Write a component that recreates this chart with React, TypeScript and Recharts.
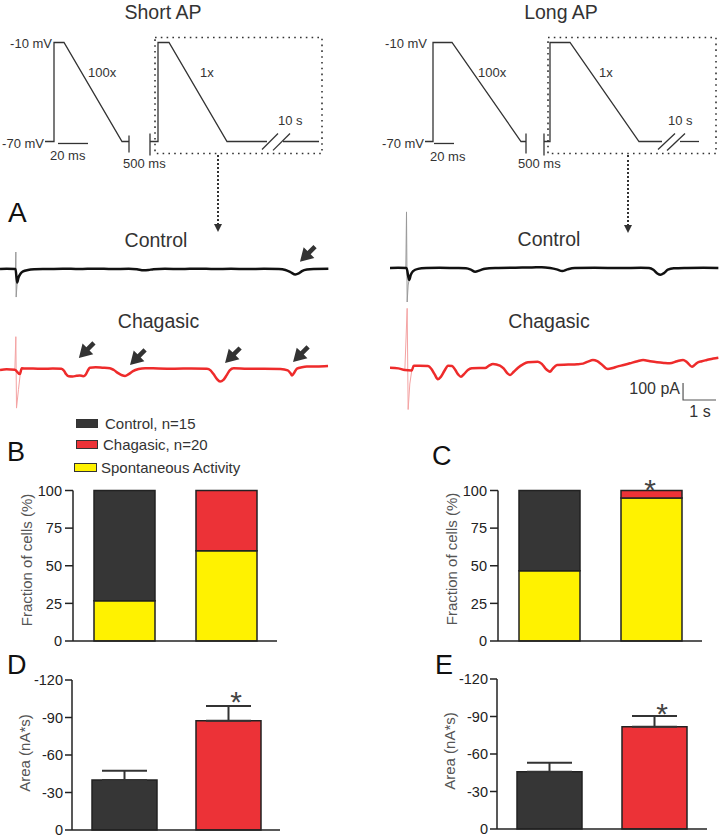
import React from 'react';
import {
  LineChart, Line, XAxis, YAxis, ReferenceArea, ReferenceDot,
  BarChart, Bar, Cell, ErrorBar,
} from 'recharts';

const FONT = '"Liberation Sans", Arial, Helvetica, sans-serif';

// ---------- Protocol schematics (x: schematic units, y: mV) ----------
const shortPulse1 = [[45, -70], [54, -70], [54, -10], [64, -10], [122, -70], [129, -70]];
const shortBreakA = [[129, -66.4], [129, -76.7]];
const shortBreakB = [[150, -65.2], [150, -78.5]];
const shortPulse2 = [[150, -70], [158, -70], [158, -10], [169, -10], [227, -70], [267, -70]];
const shortSlashA = [[262, -74.8], [278, -65.2]];
const shortSlashB = [[273, -75.4], [290, -65.2]];
const shortTail = [[283, -70], [319, -70]];
const shortScale = [[58, -71.2], [88, -71.2]];
const shortBox = [155, 322, -77.3, -7];

const longPulse1 = [[65, -70], [73, -70], [73, -10], [92, -10], [161, -70], [166, -70]];
const longBreakA = [[166, -65.2], [166, -77.3]];
const longBreakB = [[184, -65.2], [184, -78.5]];
const longPulse2 = [[184, -70], [190, -70], [190, -10], [210, -10], [279, -70], [302, -70]];
const longSlashA = [[298, -74.8], [315, -65.2]];
const longSlashB = [[307, -75.4], [325, -65.2]];
const longTail = [[320, -70], [339, -70]];
const longScale = [[74, -71.2], [94, -71.2]];
const longBox = [188, 356, -77.3, -7];

// ---------- Current traces (t: s, v: pA) ----------
const leftControlTrace = [
  [0, 0], [0.2, 2], [0.47, 0], [0.52, -80], [0.56, -50], [0.62, -28], [0.7, -14], [0.85, -6], [1.05, -2],
  [1.4, 0], [1.9, 2], [2.4, 0], [2.9, 2], [3.4, 0], [3.9, 1], [4.15, -2], [4.35, -8], [4.5, -6], [4.65, -1],
  [5.0, 1], [5.5, 0], [6.0, 2], [6.5, 0], [7.0, 1], [7.5, 0], [8.0, 1], [8.45, 0], [8.65, -6], [8.8, -18],
  [8.95, -32], [9.05, -26], [9.15, -12], [9.3, -3], [9.5, 0], [9.95, 1],
];
const leftControlArtifact = [[0.47, 0], [0.48, 100], [0.49, -165], [0.52, -80]];

const leftChagasTrace = [
  [0, -6], [0.2, -2], [0.45, -4], [0.6, -30], [0.66, 4], [0.8, 3], [1.0, 3], [1.3, 1], [1.6, 3],
  [1.86, 2], [1.94, -10], [2.0, -30], [2.08, -43], [2.2, -44], [2.32, -40], [2.42, -38], [2.52, -42],
  [2.6, -32], [2.66, -10], [2.72, 8], [2.9, 10], [3.1, 8], [3.33, 5], [3.45, -6], [3.58, -24], [3.7, -37],
  [3.79, -41], [3.9, -30], [4.03, -12], [4.2, 0], [4.4, 5], [4.8, 3], [5.3, 2], [5.8, 3], [6.27, 2],
  [6.38, -8], [6.47, -30], [6.57, -58], [6.67, -74], [6.77, -64], [6.87, -36], [6.96, -8], [7.08, 4],
  [7.5, 1], [8.0, 2], [8.5, 0], [8.72, -8], [8.8, -24], [8.85, -38], [8.92, -20], [9.0, 2], [9.15, 10],
  [9.3, 14], [9.6, 15], [9.94, 18],
];
const leftChagasArtifact = [[0.45, -4], [0.48, 190], [0.5, -230], [0.56, -120], [0.62, -20]];

const rightControlTrace = [
  [0, 0], [0.25, 1], [0.5, 0], [0.58, -70], [0.63, -40], [0.7, -18], [0.85, -5], [1.1, 0], [1.5, 2],
  [2.0, 0], [2.3, -2], [2.45, -10], [2.58, -22], [2.72, -14], [2.88, -4], [3.2, 0], [3.8, 2], [4.3, 3],
  [4.6, 5], [4.85, 0], [5.05, -8], [5.22, -18], [5.38, -8], [5.6, 0], [6.2, 1], [7.0, 0], [7.6, 1],
  [7.85, 0], [7.98, -10], [8.1, -32], [8.2, -40], [8.3, -30], [8.42, -10], [8.6, -2], [9.0, 0], [9.5, 1],
  [9.95, 0],
];
const rightControlArtifact = [[0.48, 0], [0.5, 330], [0.52, -200], [0.55, -100], [0.58, -70]];

const rightChagasTrace = [
  [0, -4], [0.25, -8], [0.45, -18], [0.66, -20], [0.72, 8], [0.9, 8], [1.15, 6], [1.25, -10],
  [1.35, -42], [1.45, -72], [1.54, -58], [1.65, -22], [1.76, 8], [1.88, 6], [1.98, -18], [2.07, -45],
  [2.15, -57], [2.25, -40], [2.36, -18], [2.48, -8], [2.7, -6], [2.88, -6], [3.0, 8], [3.12, 18],
  [3.33, 8], [3.45, -10], [3.55, -36], [3.64, -47], [3.75, -28], [3.88, -4], [4.03, 16], [4.18, 28],
  [4.48, 31], [4.6, 18], [4.7, -6], [4.78, -20], [4.85, -28], [4.92, -12], [5.06, 12], [5.4, 14],
  [5.67, 16], [5.85, 20], [6.0, 32], [6.15, 41], [6.28, 34], [6.4, 18], [6.6, -12], [6.75, -6],
  [6.88, 2], [7.08, 12], [7.27, 22], [7.5, 34], [7.67, 41], [7.88, 34], [8.09, 28], [8.3, 24],
  [8.48, 22], [8.7, 34], [8.88, 41], [9.0, 28], [9.15, 2], [9.22, 10], [9.3, 24], [9.45, 34],
  [9.6, 41], [9.8, 50], [9.95, 55],
];
const rightChagasArtifact = [[0.45, -18], [0.52, 345], [0.55, -250], [0.6, -100], [0.66, -20]];

const scaleBar = [[8.88, -94], [8.88, -194], [9.88, -194]]; // 100 pA, 1 s

const leftControlArrows = [[9.09, 43]];
const leftChagasArrows = [[2.39, 65], [3.94, 24], [6.82, 35], [8.88, 41]];

// ---------- Bar data ----------
const groups = ['Control', 'Chagasic'];
const groupColors = ['#363636', '#ec3237'];
const spontColor = '#fff200';
const shortSpont = [26.7, 60];
const longSpont = [46.7, 95];
const fractionTicks = [0, 25, 50, 75, 100];
const shortArea = [-40, -87.4];
const shortSem = [7.4, 11.8];
const longArea = [-45.8, -81.8];
const longSem = [7.2, 8.6];
const areaTicks = [-120, -90, -60, -30, 0];

const toXY = (a: number[][]) => a.map(([x, v]) => ({ x, v }));
const toTV = (a: number[][]) => a.map(([t, v]) => ({ t, v }));

function Txt({ x, y, size = 13, color = '#333', anchor = 'start', rotate = false, children }: any) {
  const tx = anchor === 'middle' ? '-50%' : anchor === 'end' ? '-100%' : '0';
  return (
    <div
      style={{
        position: 'absolute', left: x, top: y, fontFamily: FONT, fontSize: size, color,
        lineHeight: 1.15, whiteSpace: 'nowrap',
        transform: `translate(${tx},-50%)${rotate ? ' rotate(-90deg)' : ''}`,
      }}
    >
      {children}
    </div>
  );
}

function Protocol({ left, segs, box }: any) {
  return (
    <div style={{ position: 'absolute', left, top: 25.5 }}>
      <LineChart width={360} height={132} margin={{ top: 0, right: 0, bottom: 0, left: 0 }}>
        <XAxis type="number" dataKey="x" domain={[0, 360]} hide />
        <YAxis type="number" domain={[-80, 0]} hide />
        <ReferenceArea
          x1={box[0]} x2={box[1]} y1={box[2]} y2={box[3]} fill="none" fillOpacity={0}
          stroke="#333" strokeWidth={1.6} strokeDasharray="1.6 4.2" ifOverflow="visible"
        />
        {segs.map((s: number[][], i: number) => (
          <Line key={i} data={toXY(s)} dataKey="v" type="linear" stroke="#333" strokeWidth={1.3}
            dot={false} isAnimationActive={false} />
        ))}
      </LineChart>
    </div>
  );
}

const ArrowShape = (props: any) => {
  const { cx, cy } = props;
  if (cx == null || cy == null) return null;
  return (
    <polygon
      transform={`translate(${cx},${cy}) scale(1.15)`}
      points="0,0 12.5,-3.2 9.3,-6.5 14.5,-11.7 11.7,-14.5 6.5,-9.3 3.2,-12.5"
      fill="#333"
    />
  );
};

function Trace({ left, baseline, trace, artifact, color, artColor, arrows = [], bar }: any) {
  const H = 136;
  return (
    <div style={{ position: 'absolute', left, top: baseline - H / 2 }}>
      <LineChart width={330} height={H} margin={{ top: 0, right: 0, bottom: 0, left: 0 }}>
        <XAxis type="number" dataKey="t" domain={[0, 10]} hide />
        <YAxis type="number" domain={[-400, 400]} hide />
        <Line data={toTV(artifact)} dataKey="v" type="linear" stroke={artColor} strokeWidth={1}
          dot={false} isAnimationActive={false} />
        <Line data={toTV(trace)} dataKey="v" type="monotone" stroke={color} strokeWidth={2.5}
          dot={false} isAnimationActive={false} />
        {bar && (
          <Line data={toTV(bar)} dataKey="v" type="linear" stroke="#555" strokeWidth={1.2}
            dot={false} isAnimationActive={false} />
        )}
        {arrows.map(([t, v]: number[], i: number) => (
          <ReferenceDot key={i} x={t} y={v} r={1} shape={ArrowShape} ifOverflow="visible" />
        ))}
      </LineChart>
    </div>
  );
}

const axisStyle = { stroke: '#222', strokeWidth: 1.5 };

function FractionChart({ left, top, width, spont }: any) {
  const data = groups.map((g, i) => ({ g, spont: spont[i], rest: 100 - spont[i] }));
  return (
    <div style={{ position: 'absolute', left, top }}>
      <BarChart width={width} height={170} data={data} barSize={61}
        margin={{ top: 10.5, right: 0, bottom: 8, left: 0 }}>
        <XAxis dataKey="g" tick={false} tickLine={false} height={1} axisLine={axisStyle} />
        <YAxis width={73} domain={[0, 100]} ticks={fractionTicks} interval={0} tickSize={8} tickMargin={3}
          axisLine={axisStyle} tickLine={axisStyle}
          tick={{ fill: '#222', fontSize: 14.5, fontFamily: FONT }} />
        <Bar dataKey="spont" stackId="s" fill={spontColor} stroke="#222" strokeWidth={1.5}
          isAnimationActive={false} />
        <Bar dataKey="rest" stackId="s" stroke="#222" strokeWidth={1.5} isAnimationActive={false}>
          {data.map((d, i) => <Cell key={d.g} fill={groupColors[i]} />)}
        </Bar>
      </BarChart>
    </div>
  );
}

function AreaBars({ left, top, width, means, sems }: any) {
  const data = groups.map((g, i) => ({ g, area: means[i], err: [sems[i], 0] }));
  return (
    <div style={{ position: 'absolute', left, top }}>
      <BarChart width={width} height={169} data={data} barSize={65}
        margin={{ top: 10, right: 0, bottom: 8, left: 0 }}>
        <XAxis dataKey="g" tick={false} tickLine={false} height={1} axisLine={axisStyle} />
        <YAxis width={72} domain={[-120, 0]} reversed ticks={areaTicks} interval={0} tickSize={7}
          tickMargin={2} axisLine={axisStyle} tickLine={axisStyle}
          tick={{ fill: '#222', fontSize: 14.5, fontFamily: FONT }} />
        <Bar dataKey="area" stroke="#222" strokeWidth={1.5} isAnimationActive={false}>
          {data.map((d, i) => <Cell key={d.g} fill={groupColors[i]} />)}
          <ErrorBar dataKey="err" width={22.5} stroke="#333" strokeWidth={2} direction="y" />
        </Bar>
      </BarChart>
    </div>
  );
}

function DottedArrow({ x, y1, y2 }: any) {
  return (
    <>
      <div style={{ position: 'absolute', left: x - 1, top: y1, height: y2 - y1 - 7, width: 0,
        borderLeft: '2px dotted #333' }} />
      <div style={{ position: 'absolute', left: x - 4, top: y2 - 8, width: 0, height: 0,
        borderLeft: '4px solid transparent', borderRight: '4px solid transparent',
        borderTop: '8px solid #333' }} />
    </>
  );
}

function LegendBox({ x, y, w, h, color, label, tx }: any) {
  return (
    <>
      <div style={{ position: 'absolute', left: x, top: y, width: w, height: h, background: color,
        border: '1px solid #333', boxSizing: 'border-box' }} />
      <Txt x={tx} y={y + h / 2} size={15}>{label}</Txt>
    </>
  );
}

export default function App() {
  return (
    <div style={{ position: 'absolute', left: 0, top: 0, width: 719, height: 837, background: '#fff',
      overflow: 'hidden', fontFamily: FONT }}>
      {/* Titles */}
      <Txt x={163} y={12} size={19.5} anchor="middle">Short AP</Txt>
      <Txt x={561} y={12} size={19.5} anchor="middle">Long AP</Txt>

      {/* Protocols */}
      <Protocol left={0} box={shortBox}
        segs={[shortPulse1, shortBreakA, shortBreakB, shortPulse2, shortSlashA, shortSlashB, shortTail, shortScale]} />
      <Protocol left={360} box={longBox}
        segs={[longPulse1, longBreakA, longBreakB, longPulse2, longSlashA, longSlashB, longTail, longScale]} />

      <Txt x={52} y={44} anchor="end">-10 mV</Txt>
      <Txt x={44} y={144} anchor="end">-70 mV</Txt>
      <Txt x={88} y={73}>100x</Txt>
      <Txt x={200} y={73}>1x</Txt>
      <Txt x={50} y={156}>20 ms</Txt>
      <Txt x={123} y={164}>500 ms</Txt>
      <Txt x={278} y={121}>10 s</Txt>

      <Txt x={427} y={44} anchor="end">-10 mV</Txt>
      <Txt x={424} y={144} anchor="end">-70 mV</Txt>
      <Txt x={478} y={73}>100x</Txt>
      <Txt x={599} y={73}>1x</Txt>
      <Txt x={430} y={157}>20 ms</Txt>
      <Txt x={518} y={164}>500 ms</Txt>
      <Txt x={668} y={121}>10 s</Txt>

      <DottedArrow x={218} y1={155} y2={232} />
      <DottedArrow x={628} y1={155} y2={233} />

      {/* Panel A */}
      <Txt x={8} y={213} size={28} color="#111">A</Txt>
      <Txt x={156} y={240} size={19.5} anchor="middle">Control</Txt>
      <Txt x={158.5} y={321} size={19.5} anchor="middle">Chagasic</Txt>
      <Txt x={549} y={239} size={19.5} anchor="middle">Control</Txt>
      <Txt x={549} y={321} size={19.5} anchor="middle">Chagasic</Txt>

      <Trace left={0} baseline={269} trace={leftControlTrace} artifact={leftControlArtifact}
        color="#111" artColor="#999" arrows={leftControlArrows} />
      <Trace left={0} baseline={369} trace={leftChagasTrace} artifact={leftChagasArtifact}
        color="#ee2b2b" artColor="#f4a3a3" arrows={leftChagasArrows} />
      <Trace left={390} baseline={268} trace={rightControlTrace} artifact={rightControlArtifact}
        color="#111" artColor="#999" />
      <Trace left={390} baseline={367} trace={rightChagasTrace} artifact={rightChagasArtifact}
        color="#ee2b2b" artColor="#f4a3a3" bar={scaleBar} />
      <Txt x={680} y={389} size={16} anchor="end">100 pA</Txt>
      <Txt x={700} y={412} size={16} anchor="middle">1 s</Txt>

      {/* Legend */}
      <LegendBox x={76} y={419} w={22} h={9} color={groupColors[0]} label="Control, n=15" tx={105} />
      <LegendBox x={76} y={440} w={22} h={9} color={groupColors[1]} label="Chagasic, n=20" tx={103} />
      <LegendBox x={74} y={463} w={23} h={9} color={spontColor} label="Spontaneous Activity" tx={101} />

      {/* Panel B / C */}
      <Txt x={7} y={453} size={27} color="#111">B</Txt>
      <Txt x={432} y={457} size={27} color="#111">C</Txt>
      <FractionChart left={0} top={480} width={277} spont={shortSpont} />
      <FractionChart left={425} top={480} width={277} spont={longSpont} />
      <Txt x={27} y={560} size={15} color="#555" anchor="middle" rotate>Fraction of cells (%)</Txt>
      <Txt x={452} y={559} size={15} color="#555" anchor="middle" rotate>Fraction of cells (%)</Txt>
      <Txt x={650} y={490} size={30} color="#444" anchor="middle">*</Txt>

      {/* Panel D / E */}
      <Txt x={7} y={666} size={27} color="#111">D</Txt>
      <Txt x={435} y={666} size={27} color="#111">E</Txt>
      <AreaBars left={0} top={670} width={280} means={shortArea} sems={shortSem} />
      <AreaBars left={425} top={669} width={282} means={longArea} sems={longSem} />
      <Txt x={25} y={753} size={15} color="#555" anchor="middle" rotate>Area (nA*s)</Txt>
      <Txt x={450} y={751} size={15} color="#555" anchor="middle" rotate>Area (nA*s)</Txt>
      <Txt x={236} y={702} size={30} color="#444" anchor="middle">*</Txt>
      <Txt x={662} y={714} size={30} color="#444" anchor="middle">*</Txt>
    </div>
  );
}
